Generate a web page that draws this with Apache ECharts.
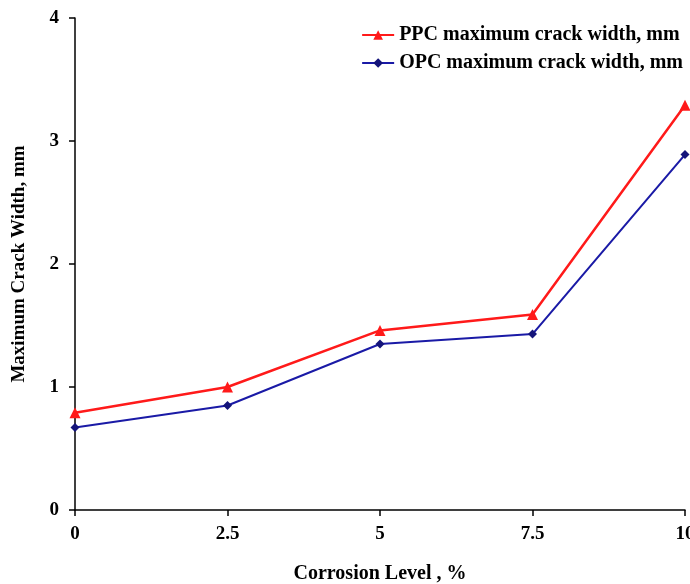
<!DOCTYPE html>
<html>
<head>
<meta charset="utf-8">
<script src="https://cdn.jsdelivr.net/npm/echarts@6/dist/echarts.min.js"></script>
<style>
  html, body { margin: 0; padding: 0; background: #fff; }
  #chart { width: 690px; height: 584px; }
</style>
</head>
<body>
<div id="chart"></div>
<script>
var corrosionLevels = [0, 2.5, 5, 7.5, 10];
var ppcCrackWidth = [0.79, 1.0, 1.46, 1.59, 3.29];
var opcCrackWidth = [0.67, 0.85, 1.35, 1.43, 2.89];

function toPairs(xs, ys) {
    var out = [];
    for (var i = 0; i < xs.length; i++) {
        out.push([xs[i], ys[i]]);
    }
    return out;
}

var fontFamily = '"Liberation Serif", "Times New Roman", serif';

var chartDom = document.getElementById('chart');
var myChart = echarts.init(chartDom);
var option;

option = {
    backgroundColor: '#fff',
    animation: false,
    grid: {
        left: 75,
        right: 5,
        top: 18,
        bottom: 74,
        containLabel: false,
        outerBoundsMode: 'none'
    },
    legend: {
        orient: 'vertical',
        right: 2,
        top: 20,
        itemWidth: 32,
        itemHeight: 12,
        itemGap: 8,
        textStyle: {
            fontFamily: fontFamily,
            fontWeight: 'bold',
            fontSize: 20,
            color: '#000'
        },
        data: ['PPC maximum crack width, mm', 'OPC maximum crack width, mm']
    },
    xAxis: {
        type: 'value',
        min: 0,
        max: 10,
        interval: 2.5,
        name: 'Corrosion Level , %',
        nameLocation: 'middle',
        nameGap: 54,
        nameTextStyle: {
            fontFamily: fontFamily,
            fontWeight: 'bold',
            fontSize: 20,
            color: '#000'
        },
        axisLine: { lineStyle: { color: '#000', width: 1.5 } },
        axisTick: { show: true, length: 6, lineStyle: { color: '#000', width: 1.5 } },
        axisLabel: {
            fontFamily: fontFamily,
            fontWeight: 'bold',
            fontSize: 19,
            color: '#000',
            margin: 15
        },
        splitLine: { show: false }
    },
    yAxis: {
        type: 'value',
        min: 0,
        max: 4,
        interval: 1,
        name: 'Maximum Crack Width, mm',
        nameLocation: 'middle',
        nameGap: 46,
        nameTextStyle: {
            fontFamily: fontFamily,
            fontWeight: 'bold',
            fontSize: 19,
            color: '#000'
        },
        axisLine: { show: true, lineStyle: { color: '#000', width: 1.5 } },
        axisTick: { show: true, length: 6, lineStyle: { color: '#000', width: 1.5 } },
        axisLabel: {
            fontFamily: fontFamily,
            fontWeight: 'bold',
            fontSize: 19,
            color: '#000',
            margin: 16
        },
        splitLine: { show: false }
    },
    series: [{
        name: 'PPC maximum crack width, mm',
        type: 'line',
        data: toPairs(corrosionLevels, ppcCrackWidth),
        symbol: 'triangle',
        symbolSize: 11,
        color: '#ff1a1a',
        lineStyle: { width: 2.5, color: '#ff1a1a' },
        itemStyle: { color: '#ff1a1a' },
        z: 3
    }, {
        name: 'OPC maximum crack width, mm',
        type: 'line',
        data: toPairs(corrosionLevels, opcCrackWidth),
        symbol: 'diamond',
        symbolSize: 9,
        color: '#1a1aa6',
        lineStyle: { width: 2, color: '#1a1aa6' },
        itemStyle: { color: '#14147a' },
        z: 2
    }]
};

option && myChart.setOption(option);
</script>
</body>
</html>
